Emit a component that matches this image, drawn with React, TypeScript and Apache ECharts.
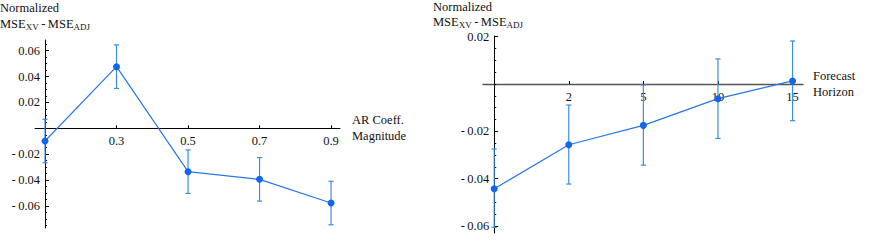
import React, { useEffect, useRef } from "react";
import * as echarts from "echarts";

// Left panel: error versus AR coefficient magnitude
const arCoeff = [0.1, 0.3, 0.5, 0.7, 0.9];
const arMean = [-0.0098, 0.0476, -0.0335, -0.0394, -0.0577];
const arLow = [-0.0266, 0.0308, -0.0503, -0.0562, -0.0745];
const arHigh = [0.007, 0.0644, -0.0167, -0.0226, -0.0409];
const arTickLabels = [0.3, 0.5, 0.7, 0.9];
const arYLabels = [-0.06, -0.04, -0.02, 0.02, 0.04, 0.06];

// Right panel: error versus forecast horizon (evenly spaced positions)
const horizons = ["1", "2", "5", "10", "15"];
const hMean = [-0.0443, -0.0257, -0.0175, -0.0062, 0.0013];
const hLow = [-0.0606, -0.0423, -0.0343, -0.023, -0.0155];
const hHigh = [-0.0275, -0.0089, -0.0004, 0.0106, 0.0182];
const hTickPositions = [1, 2, 3, 4];
const hYLabels = [-0.06, -0.04, -0.02, 0.02];

const FONT = "'Liberation Serif', 'Times New Roman', 'DejaVu Serif', serif";
const LINE = "#2a78e4";
const DOT = "#1166ee";
const ERR = "#3f8be6";

// Panel geometry
const L = { left: 35, top: 40, width: 305, height: 188, xMin: 0.072, xMax: 0.925, yMin: -0.077, yMax: 0.0682, yAxisAt: 0.1 };
const R = { left: 483, top: 36, width: 320, height: 197, xMin: -0.15, xMax: 4.14, yMin: -0.063, yMax: 0.0203, yAxisAt: 0 };

// Pixel offsets that place each axis on the other axis' crossing value
const xOffset = (g: typeof L) => -(g.height * (0 - g.yMin)) / (g.yMax - g.yMin);
const yOffset = (g: typeof L) => -(g.width * (g.yAxisAt - g.xMin)) / (g.xMax - g.xMin);

function minorTicks(from: number, to: number, step: number): number[] {
  const out: number[] = [];
  for (let v = from; v <= to + 1e-9; v += step) out.push(Math.round(v * 1000) / 1000);
  return out;
}

const fmtY = (v: number) =>
  v < 0 ? "-\u2009" + Math.abs(v).toFixed(2) : v.toFixed(2);

const labelStyle = { fontFamily: FONT, fontSize: 12.5, color: "#111" };

function errorBars(idx: number, rows: number[][]) {
  return {
    type: "custom",
    xAxisIndex: idx,
    yAxisIndex: idx * 2,
    data: rows,
    encode: { x: 0, y: [1, 2] },
    z: 3,
    renderItem: (_p: any, api: any) => {
      const x = api.value(0);
      const lo = api.coord([x, api.value(1)]);
      const hi = api.coord([x, api.value(2)]);
      const w = 2.6;
      const style = { stroke: ERR, lineWidth: 1.2, fill: "none" };
      return {
        type: "group",
        children: [
          { type: "line", shape: { x1: lo[0], y1: lo[1], x2: hi[0], y2: hi[1] }, style },
          { type: "line", shape: { x1: lo[0] - w, y1: lo[1], x2: lo[0] + w, y2: lo[1] }, style },
          { type: "line", shape: { x1: hi[0] - w, y1: hi[1], x2: hi[0] + w, y2: hi[1] }, style },
        ],
      };
    },
  };
}

function lineSeries(idx: number, pts: number[][]) {
  return {
    type: "line",
    xAxisIndex: idx,
    yAxisIndex: idx * 2,
    data: pts,
    symbol: "circle",
    symbolSize: 7,
    z: 4,
    lineStyle: { color: LINE, width: 1.2 },
    itemStyle: { color: DOT },
  };
}

const titleRich = {
  sub: { fontFamily: FONT, fontSize: 9, lineHeight: 9, verticalAlign: "bottom", fill: "#111" },
};

function text(x: number, y: number, t: string, rich = false) {
  return {
    type: "text",
    x,
    y,
    style: {
      text: t,
      fontFamily: FONT,
      fontSize: 12.5,
      lineHeight: 14,
      fill: "#111",
      verticalAlign: "top",
      ...(rich ? { rich: titleRich } : {}),
    },
  };
}

function xAxisFor(gi: number, g: typeof L, ticks: number[], fmt: (v: number) => string, lineColor: string, lineWidth: number) {
  return {
    type: "value",
    gridIndex: gi,
    position: "bottom",
    offset: xOffset(g),
    min: g.xMin,
    max: g.xMax,
    splitLine: { show: false },
    axisLine: { onZero: false, lineStyle: { color: lineColor, width: lineWidth } },
    axisTick: { inside: true, length: 3, customValues: ticks, lineStyle: { color: "#000" } },
    axisLabel: { ...labelStyle, margin: 6, customValues: ticks, formatter: fmt },
  };
}

function yAxesFor(gi: number, g: typeof L, labels: number[], minor: number[]) {
  const base = {
    type: "value",
    gridIndex: gi,
    position: "left",
    offset: yOffset(g),
    min: g.yMin,
    max: g.yMax,
    splitLine: { show: false },
  };
  return [
    {
      ...base,
      axisLine: { onZero: false, lineStyle: { color: "#000", width: 1 } },
      axisTick: { inside: true, length: 4, customValues: labels, lineStyle: { color: "#000" } },
      axisLabel: { ...labelStyle, margin: 5, customValues: labels, formatter: fmtY },
    },
    {
      ...base,
      axisLine: { show: false, onZero: false },
      axisTick: { inside: true, length: 2, customValues: minor, lineStyle: { color: "#000" } },
      axisLabel: { show: false },
    },
  ];
}

export default function App() {
  const ref = useRef<HTMLDivElement>(null);

  useEffect(() => {
    if (!ref.current) return;
    const chart = echarts.init(ref.current, null, { renderer: "svg" });

    chart.setOption({
      animation: false,
      backgroundColor: "#fff",
      grid: [
        { left: L.left, top: L.top, width: L.width, height: L.height },
        { left: R.left, top: R.top, width: R.width, height: R.height },
      ],
      xAxis: [
        xAxisFor(0, L, arTickLabels, (v) => v.toFixed(1), "#000", 1),
        xAxisFor(1, R, hTickPositions, (v) => horizons[Math.round(v)] ?? "", "#555", 1.3),
      ],
      yAxis: [
        ...yAxesFor(0, L, arYLabels, minorTicks(-0.075, 0.065, 0.005)),
        ...yAxesFor(1, R, hYLabels, minorTicks(-0.06, 0.02, 0.005)),
      ],
      series: [
        errorBars(0, arCoeff.map((x, i) => [x, arLow[i], arHigh[i]])),
        lineSeries(0, arCoeff.map((x, i) => [x, arMean[i]])),
        errorBars(1, horizons.map((_h, i) => [i, hLow[i], hHigh[i]])),
        lineSeries(1, horizons.map((_h, i) => [i, hMean[i]])),
      ],
      graphic: [
        text(0, 1, "Normalized"),
        text(0, 17, "MSE{sub|XV}\u2009-\u2009MSE{sub|ADJ}", true),
        text(433, 0, "Normalized"),
        text(433, 15, "MSE{sub|XV}\u2009-\u2009MSE{sub|ADJ}", true),
        text(352, 113, "AR Coeff."),
        text(352, 129, "Magnitude"),
        text(813, 69, "Forecast"),
        text(813, 85, "Horizon"),
      ],
    });

    return () => chart.dispose();
  }, []);

  return (
    <div
      ref={ref}
      style={{ position: "fixed", left: 0, top: 0, width: 872, height: 242, background: "#fff" }}
    />
  );
}
